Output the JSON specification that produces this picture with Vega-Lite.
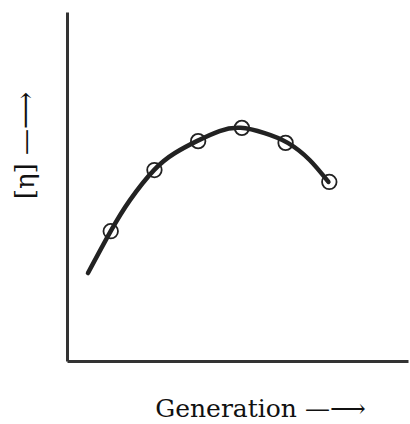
{
  "$schema": "https://vega.github.io/schema/vega-lite/v6.json",
  "autosize": "none",
  "width": 341,
  "height": 349,
  "padding": {"left": 67, "top": 12, "right": 2, "bottom": 63},
  "background": "white",
  "config": {"view": {"stroke": null}},
  "datasets": {
    "curve": [
      {"generation": 0.48, "eta": 0.252},
      {"generation": 1.0, "eta": 0.372},
      {"generation": 1.44, "eta": 0.461},
      {"generation": 1.99, "eta": 0.547},
      {"generation": 2.47, "eta": 0.596},
      {"generation": 2.97, "eta": 0.63},
      {"generation": 3.49, "eta": 0.659},
      {"generation": 3.97, "eta": 0.668},
      {"generation": 4.52, "eta": 0.653},
      {"generation": 5.05, "eta": 0.625},
      {"generation": 5.55, "eta": 0.576},
      {"generation": 5.98, "eta": 0.513}
    ],
    "points": [
      {"generation": 1, "eta": 0.372},
      {"generation": 2, "eta": 0.547},
      {"generation": 3, "eta": 0.63},
      {"generation": 4, "eta": 0.668},
      {"generation": 5, "eta": 0.625},
      {"generation": 6, "eta": 0.513}
    ]
  },
  "layer": [
    {
      "data": {"name": "curve"},
      "mark": {"type": "line", "interpolate": "natural", "color": "#222", "strokeWidth": 4.5, "strokeCap": "round"},
      "encoding": {
        "x": {"field": "generation", "type": "quantitative", "scale": {"domain": [0, 7.8], "nice": false},
          "axis": {"title": "Generation  —⟶", "ticks": false, "labels": false, "grid": false, "domainColor": "#333", "domainWidth": 3,
            "titleFont": "DejaVu Serif", "titleFontSize": 25, "titleFontWeight": "normal", "titleColor": "#111",
            "titleX": 193, "titleY": 47, "titleAlign": "center", "titleBaseline": "middle"}},
        "y": {"field": "eta", "type": "quantitative", "scale": {"domain": [0, 1], "nice": false},
          "axis": {"title": "[η] —⟶", "ticks": false, "labels": false, "grid": false, "domainColor": "#333", "domainWidth": 3,
            "titleFont": "DejaVu Serif", "titleFontSize": 26, "titleFontWeight": "normal", "titleColor": "#111",
            "titleX": -42, "titleY": 133, "titleAlign": "center", "titleBaseline": "middle", "titleAngle": -90}}
      }
    },
    {
      "data": {"name": "points"},
      "mark": {"type": "point", "shape": "circle", "filled": false, "color": "#222", "strokeWidth": 1.8, "size": 210, "opacity": 1},
      "encoding": {
        "x": {"field": "generation", "type": "quantitative"},
        "y": {"field": "eta", "type": "quantitative"}
      }
    }
  ]
}
